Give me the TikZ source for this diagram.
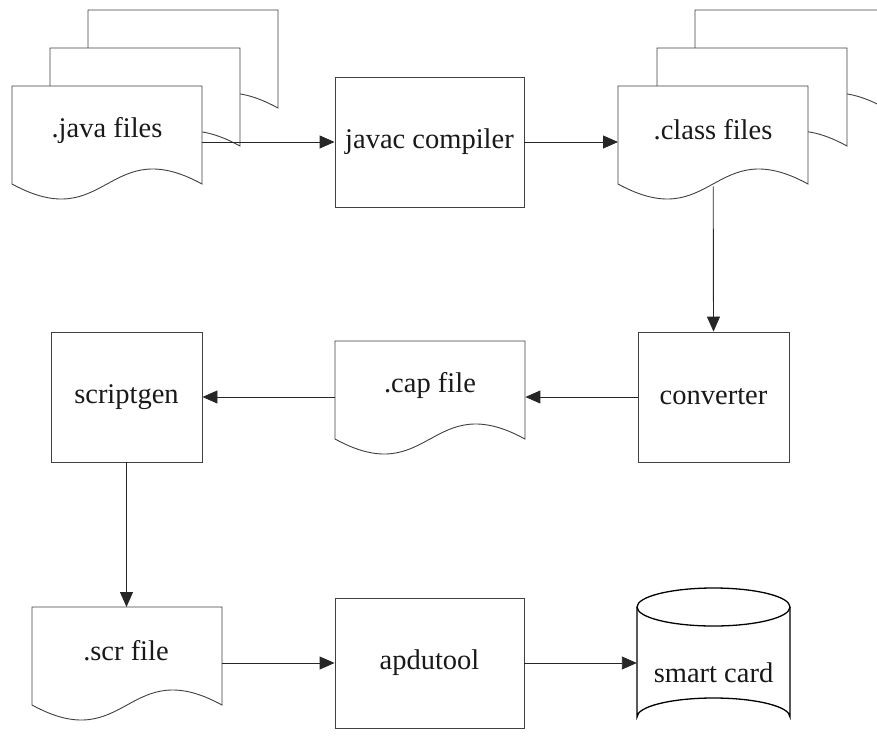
\documentclass[tikz,border=0pt]{standalone}
\usepackage{fontspec}
\setmainfont{Liberation Serif}
\usetikzlibrary{arrows.meta}

% Document (wavy bottom) outline with its top-left corner at (#1,#2)
\newcommand\docpath[2]{%
  \filldraw[docline] (#1,#2) -- ++(190,0) -- ++(0,98)
    .. controls ++(-95,-52) and ++(95,52) .. ++(-190,0) -- cycle;}

\begin{document}
\begin{tikzpicture}[x=1pt,y=-1pt,
  docline/.style={draw=black!75,fill=white,line width=0.9pt},
  procbox/.style={draw=black!75,fill=white,line width=0.9pt,rectangle,
    inner sep=0pt,font=\fontsize{28.5}{32}\selectfont,text=black!90},
  anchorbox/.style={rectangle,draw=none,inner sep=0pt,minimum width=190pt,minimum height=98pt,anchor=north west},
  lbl/.style={font=\fontsize{28.5}{32}\selectfont,text=black!90,inner sep=0pt},
  flow/.style={draw=black!85,line width=0.9pt,-{Triangle[length=15pt,width=13pt]}},
]
\useasboundingbox (0,0) rectangle (877,736);
\clip (0,0) rectangle (877,736);

% .java files stack
\docpath{88}{10}
\docpath{50}{48}
\docpath{12}{86}
\node[anchorbox] (java) at (12,86) {};
\node[lbl] (javaT) at (107,130) {.java files};

% .class files stack
\docpath{695}{10}
\docpath{657}{48}
\docpath{618}{86}
\node[anchorbox] (class) at (618,86) {};
\node[lbl] (classT) at (713,130) {.class files};

% .cap file
\docpath{335}{341}
\node[anchorbox] (cap) at (335,341) {};
\node[lbl] (capT) at (430,385) {.cap file};

% .scr file
\docpath{32}{607}
\node[anchorbox] (scr) at (32,607) {};
\node[lbl] (scrT) at (126,651) {.scr file};

% processing steps
\node[procbox,minimum width=189pt,minimum height=130pt] (javac) at (429.5,142) {javac compiler};
\node[procbox,minimum width=151pt,minimum height=130pt] (conv) at (713.5,397) {converter};
\node[procbox,minimum width=151pt,minimum height=130pt] (sgen) at (126.5,397) {scriptgen};
\node[procbox,minimum width=189pt,minimum height=130pt] (apdu) at (429.5,663) {apdutool};

% smart card cylinder
\filldraw[draw=black,fill=white,line width=1.3pt]
  (637,607) -- (637,717) arc[start angle=180,end angle=0,x radius=76.5,y radius=-19]
  -- (790,607);
\draw[black,line width=1.3pt] (713.5,607) ellipse[x radius=76.5,y radius=19];
\node[rectangle,inner sep=0pt,minimum width=153pt,minimum height=148pt] (card) at (713.5,662) {};
\node[lbl] (cardT) at (713.5,673) {smart card};

% flow
\draw[flow] (java.east |- javac.west) -- (javac.west);
\draw[flow] (javac.east) -- (class.west |- javac.east);
\draw[flow] ([yshift=-2pt]class.south) -- (conv.north);
\draw[flow] (conv.west) -- (cap.east |- conv.west);
\draw[flow] (cap.west |- sgen.east) -- (sgen.east);
\draw[flow] (sgen.south) -- (sgen.south |- scr.north);
\draw[flow] (scr.east |- apdu.west) -- (apdu.west);
\draw[flow] (apdu.east) -- (card.west |- apdu.east);
\end{tikzpicture}
\end{document}
